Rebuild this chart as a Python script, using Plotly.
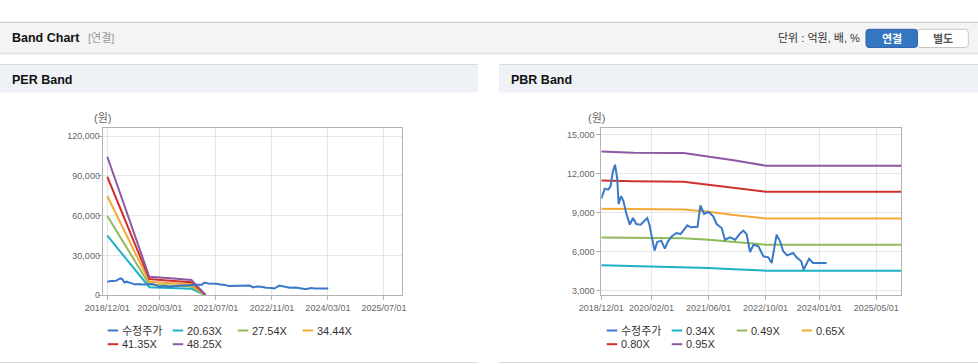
import plotly.graph_objects as go

W, H = 978, 364

# ---------------- data ----------------
price_dates = ["2018-12-01", "2018-12-30", "2019-01-28", "2019-02-18", "2019-03-10", "2019-03-28",
               "2019-04-15", "2019-04-28", "2019-05-18", "2019-06-07", "2019-07-01", "2019-08-01",
               "2019-08-28", "2019-09-25", "2019-11-01", "2019-12-28", "2020-01-15", "2020-02-10",
               "2020-02-28", "2020-03-22", "2020-04-25", "2020-05-25", "2020-06-22", "2020-07-25",
               "2020-09-01", "2020-10-07", "2020-12-03", "2021-01-01", "2021-02-28", "2021-03-25",
               "2021-04-25", "2021-06-01", "2021-07-12", "2021-08-10", "2021-09-22", "2021-10-20",
               "2021-12-01", "2022-01-15", "2022-02-22", "2022-03-25", "2022-04-22", "2022-05-22",
               "2022-06-20", "2022-08-01", "2022-09-12", "2022-10-25", "2022-11-22", "2023-01-03",
               "2023-02-01", "2023-03-01", "2023-04-03", "2023-05-25", "2023-06-22", "2023-08-01",
               "2023-08-22", "2023-10-07", "2023-11-10", "2024-03-04"]
price = [10080, 10850, 10770, 11030, 12190, 12690,
         11670, 9670, 10260, 9920, 8980, 8080,
         8590, 8130, 8080, 8590, 8080, 7050,
         6080, 6750, 6850, 6230, 6800, 7190,
         7440, 7360, 8030, 7880, 7920, 9570,
         8900, 9050, 8720, 8130, 7820, 6920,
         7110, 6920, 7360, 7620, 7360, 5980,
         6540, 6420, 5650, 5570, 5130, 7310,
         6800, 6030, 5720, 5900, 5570, 5260,
         4620, 5460, 5130, 5130]

per_dates = ["2018-12-01", "2019-12-01", "2020-06-01", "2020-12-01", "2021-04-01"]
per_names = ["20.63X", "27.54X", "34.44X", "41.35X", "48.25X"]
per_band_1 = [44900, 6100, 5450, 4950, 200]
per_band_2 = [59700, 8150, 7300, 6600, 270]
per_band_3 = [74800, 10200, 9100, 8270, 340]
per_band_4 = [89300, 12250, 10950, 9920, 400]
per_band_5 = [104400, 14000, 12800, 11580, 480]

pbr_dates = ["2018-12-01", "2019-04-01", "2019-09-01", "2020-11-01", "2021-06-01",
             "2022-01-01", "2022-10-01", "2025-12-01"]
pbr_names = ["0.34X", "0.49X", "0.65X", "0.80X", "0.95X"]
pbr_band_1 = [4950, 4930, 4850, 4830, 4750, 4650, 4540, 4540]
pbr_band_2 = [7100, 7080, 7060, 7040, 6920, 6740, 6540, 6540]
pbr_band_3 = [9310, 9290, 9260, 9240, 9080, 8820, 8560, 8560]
pbr_band_4 = [11480, 11450, 11410, 11380, 11150, 10900, 10610, 10610]
pbr_band_5 = [13700, 13640, 13620, 13600, 13340, 13030, 12620, 12620]

price_name = "수정주가"

per_xtick_vals = ["2018-12-01", "2020-03-01", "2021-07-01", "2022-11-01", "2024-03-01", "2025-07-01"]
per_xtick_text = ["2018/12/01", "2020/03/01", "2021/07/01", "2022/11/01", "2024/03/01", "2025/07/01"]
pbr_xtick_vals = ["2018-12-01", "2020-02-01", "2021-06-01", "2022-10-01", "2024-01-01", "2025-05-01"]
pbr_xtick_text = ["2018/12/01", "2020/02/01", "2021/06/01", "2022/10/01", "2024/01/01", "2025/05/01"]
per_yticks = [0, 30000, 60000, 90000, 120000]
pbr_yticks = [3000, 6000, 9000, 12000, 15000]

# ---------------- style ----------------
C_PRICE = "#3a78c8"
BAND_COLORS = ["#1db1c6", "#8fbb58", "#f2a935", "#cf302c", "#8e58a2"]
FONT = "Liberation Sans, Noto Sans CJK KR, sans-serif"


def fx(px):
    return px / W


def fy(py):
    return 1 - py / H


fig = go.Figure()

per_bands = [per_band_1, per_band_2, per_band_3, per_band_4, per_band_5]
pbr_bands = [pbr_band_1, pbr_band_2, pbr_band_3, pbr_band_4, pbr_band_5]

for vals, name, col in zip(per_bands, per_names, BAND_COLORS):
    fig.add_trace(go.Scatter(x=per_dates, y=vals, name=name, mode="lines",
                             line=dict(color=col, width=2), xaxis="x", yaxis="y",
                             showlegend=False))
fig.add_trace(go.Scatter(x=price_dates, y=price, name=price_name, mode="lines",
                         line=dict(color=C_PRICE, width=2), xaxis="x", yaxis="y",
                         showlegend=False))

for vals, name, col in zip(pbr_bands, pbr_names, BAND_COLORS):
    fig.add_trace(go.Scatter(x=pbr_dates, y=vals, name=name, mode="lines",
                             line=dict(color=col, width=2), xaxis="x2", yaxis="y2",
                             showlegend=False))
fig.add_trace(go.Scatter(x=price_dates, y=price, name=price_name, mode="lines",
                         line=dict(color=C_PRICE, width=2), xaxis="x2", yaxis="y2",
                         showlegend=False))

ydom = [fy(295.3), fy(128.3)]
axis_common = dict(showline=True, linecolor="#b3b3b3", linewidth=1, mirror=True,
                   showgrid=True, gridcolor="#e6e6e6", gridwidth=1, zeroline=False,
                   ticks="outside", ticklen=4, tickcolor="#b3b3b3", automargin=False,
                   tickfont=dict(family=FONT, size=9, color="#666666"))

fig.update_layout(
    template="none",
    width=W, height=H, margin=dict(l=0, r=0, t=0, b=0, pad=0, autoexpand=False),
    paper_bgcolor="white", plot_bgcolor="white", showlegend=False,
    xaxis=dict(domain=[fx(102.7), fx(402)], type="date", range=["2018-10-22", "2025-12-05"],
               tickmode="array", tickvals=per_xtick_vals, ticktext=per_xtick_text, anchor="y",
               **axis_common),
    yaxis=dict(domain=ydom, range=[0, 125800], tickmode="array", tickvals=per_yticks,
               tickformat=",", anchor="x", ticklabelstandoff=-4, **axis_common),
    xaxis2=dict(domain=[fx(601.3), fx(901.3)], type="date", range=["2018-12-01", "2025-12-01"],
                tickmode="array", tickvals=pbr_xtick_vals, ticktext=pbr_xtick_text, anchor="y2",
                **axis_common),
    yaxis2=dict(domain=ydom, range=[2646, 15492], tickmode="array", tickvals=pbr_yticks,
                tickformat=",", anchor="x2", **axis_common),
)

shapes = []
annos = []


def rect(x0, y0, x1, y1, fill, line=None):
    shapes.append(dict(type="rect", xref="paper", yref="paper", x0=fx(x0), x1=fx(x1),
                       y0=fy(y1), y1=fy(y0), fillcolor=fill,
                       line=dict(width=1 if line else 0, color=line or fill), layer="below"))


def hline(x0, x1, y, color, width=1):
    shapes.append(dict(type="line", xref="paper", yref="paper", x0=fx(x0), x1=fx(x1),
                       y0=fy(y), y1=fy(y), line=dict(color=color, width=width), layer="below"))


def text(x, y, s, size=11, color="#333333", anchor="left", bold=False):
    annos.append(dict(xref="paper", yref="paper", x=fx(x), y=fy(y), text=("<b>%s</b>" % s) if bold else s,
                      showarrow=False, xanchor=anchor, yanchor="middle",
                      font=dict(family=FONT, size=size, color=color), borderpad=0))


# header bar
rect(0, 22.5, 978, 52.5, "#f4f4f4")
hline(0, 978, 22.3, "#c4c4c4")
hline(0, 978, 53.0, "#d2d2d2")
hline(0, 978, 54.0, "#e8e8e8")
text(10.5, 38.3, "Band Chart", size=12.5, color="#111111", bold=True)
text(87, 38.3, "[연결]", size=11, color="#999999")
text(861, 38.3, "단위 : 억원, 배, %", size=11, color="#333333", anchor="right")


def rounded(x0, y0, x1, y1, r, fill, line):
    X = lambda v: "%.5f" % fx(v)
    Y = lambda v: "%.5f" % fy(v)
    p = ("M%s,%s L%s,%s Q%s,%s %s,%s L%s,%s Q%s,%s %s,%s L%s,%s Q%s,%s %s,%s L%s,%s Q%s,%s %s,%s Z" % (
        X(x0 + r), Y(y0), X(x1 - r), Y(y0), X(x1), Y(y0), X(x1), Y(y0 + r),
        X(x1), Y(y1 - r), X(x1), Y(y1), X(x1 - r), Y(y1),
        X(x0 + r), Y(y1), X(x0), Y(y1), X(x0), Y(y1 - r),
        X(x0), Y(y0 + r), X(x0), Y(y0), X(x0 + r), Y(y0)))
    shapes.append(dict(type="path", xref="paper", yref="paper", path=p, fillcolor=fill,
                       line=dict(color=line, width=1), layer="below"))


rounded(917, 29.3, 968.3, 47.5, 3, "#ffffff", "#c6c6c6")
rounded(866, 29.3, 917.5, 47.5, 3, "#3476c0", "#2c66aa")
text(891.7, 38.6, "연결", size=11, color="#ffffff", anchor="center", bold=True)
text(942.7, 38.6, "별도", size=11, color="#555555", anchor="center", bold=True)

# panel headers
for (a, b, title) in [(0, 478, "PER Band"), (499, 978, "PBR Band")]:
    rect(a, 64.8, b, 92.5, "#eef2f7")
    hline(a, b, 64.5, "#d6dae0")
    hline(a, b, 362.5, "#dcdcdc")
    text(a + 10.5, 79.8, title, size=12.5, color="#111111", bold=True)

# unit labels
text(102.3, 118.3, "(원)", size=11, color="#666666", anchor="center")
text(596.7, 118.3, "(원)", size=11, color="#666666", anchor="center")

# legends
legend_names_per = [price_name] + per_names
legend_names_pbr = [price_name] + pbr_names
legend_colors = [C_PRICE] + BAND_COLORS
for x0, names in [(107.7, legend_names_per), (606.7, legend_names_pbr)]:
    for i, (nm, col) in enumerate(zip(names, legend_colors)):
        r, c = divmod(i, 4)
        xs = x0 + c * 65
        ys = 330.5 + r * 13.7
        hline(xs, xs + 10.5, ys, col, width=2)
        text(xs + 13, ys, nm, size=11, color="#333333")

fig.update_layout(shapes=shapes, annotations=annos)
fig.write_html("out.html", config={"displayModeBar": False, "staticPlot": True},
               post_script="document.body.style.margin='0px';document.body.style.overflow='hidden';")
